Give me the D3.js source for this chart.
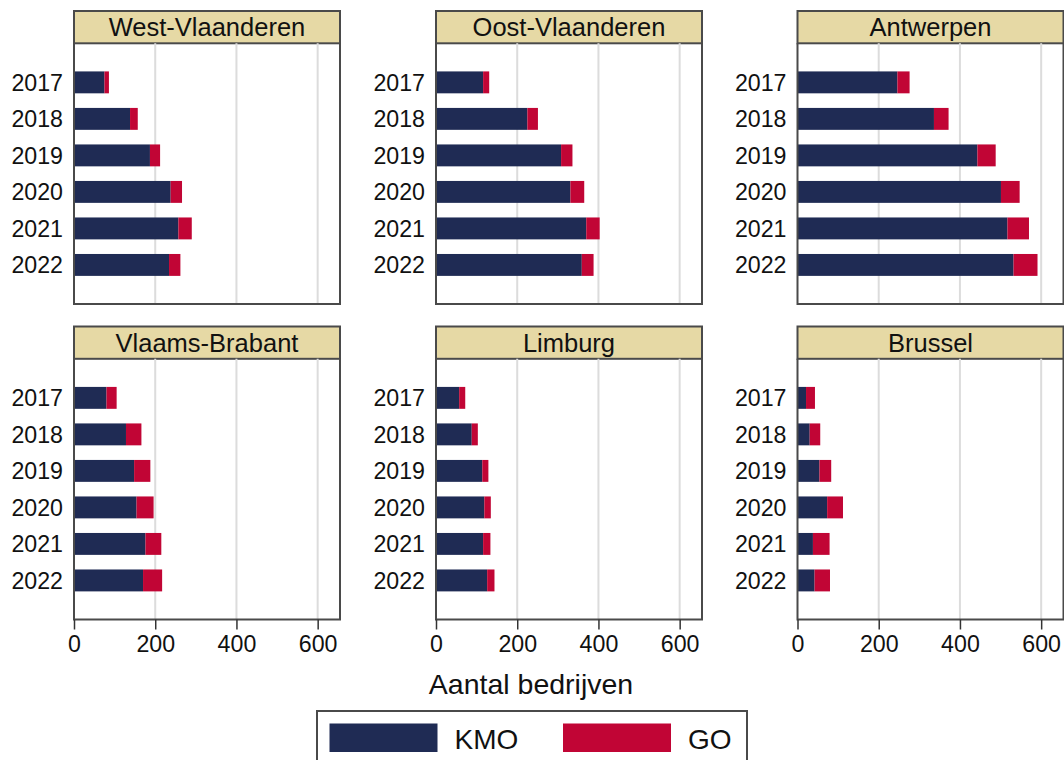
<!DOCTYPE html>
<meta charset="utf-8">
<html>
<head>
<script src="https://cdn.jsdelivr.net/npm/d3@7"></script>
<style>
  body { margin: 0; background: #fff; }
  svg { font-family: "Liberation Sans", Arial, sans-serif; }
</style>
</head>
<body>
<div id="chart"></div>
<script>
  // categories
  const provinces = ["West-Vlaanderen", "Oost-Vlaanderen", "Antwerpen", "Vlaams-Brabant", "Limburg", "Brussel"];
  const years = ["2017", "2018", "2019", "2020", "2021", "2022"];
  const series = ["KMO", "GO"];
  const xTicks = [0, 200, 400, 600];

  // number of firms per year, KMO and GO, per province
  const kmoWestVl  = [75, 138, 187, 238, 257, 234];
  const goWestVl   = [11, 19, 25, 28, 33, 28];
  const kmoOostVl  = [116, 225, 308, 331, 370, 359];
  const goOostVl   = [15, 26, 28, 34, 33, 29];
  const kmoAntw    = [246, 336, 443, 501, 517, 532];
  const goAntw     = [30, 36, 45, 46, 53, 59];
  const kmoVlBr    = [80, 128, 148, 154, 176, 170];
  const goVlBr     = [25, 38, 40, 42, 39, 47];
  const kmoLimb    = [57, 88, 114, 119, 116, 126];
  const goLimb     = [15, 15, 15, 16, 18, 18];
  const kmoBrussel = [21, 30, 54, 73, 38, 42];
  const goBrussel  = [22, 26, 29, 39, 41, 38];

  const kmoByProv = [kmoWestVl, kmoOostVl, kmoAntw, kmoVlBr, kmoLimb, kmoBrussel];
  const goByProv  = [goWestVl, goOostVl, goAntw, goVlBr, goLimb, goBrussel];

  const colors = {KMO: "#1f2b54", GO: "#c10535"};

  const W = 1064, H = 760;
  const colX = [74, 436, 797.5];
  const rowY = [11, 326.5];
  const panelW = 266, headH = 32.3, plotH = 260.7;

  const svg = d3.select("#chart").append("svg")
      .attr("width", W).attr("height", H);

  const x = d3.scaleLinear().domain([0, 655]).range([0, panelW]);
  const y = d3.scaleBand().domain(years).range([0, plotH])
      .paddingInner(0.4).paddingOuter(0.77);

  provinces.forEach((prov, i) => {
    const col = i % 3, row = Math.floor(i / 3);
    const g = svg.append("g")
        .attr("transform", `translate(${colX[col]},${rowY[row]})`);

    // header strip
    g.append("rect")
        .attr("x", 0).attr("y", 0).attr("width", panelW).attr("height", headH)
        .attr("fill", "#e6d9a5").attr("stroke", "#4a4a4a").attr("stroke-width", 2);
    g.append("text")
        .attr("x", panelW / 2).attr("y", headH / 2 + 9)
        .attr("text-anchor", "middle")
        .attr("font-size", 25.5).attr("fill", "#111")
        .text(prov);

    const p = g.append("g").attr("transform", `translate(0,${headH})`);

    // gridlines
    p.selectAll(".grid").data(xTicks.slice(1)).join("line")
        .attr("x1", d => x(d)).attr("x2", d => x(d))
        .attr("y1", 0).attr("y2", plotH)
        .attr("stroke", "#dcdcdc").attr("stroke-width", 2);

    // stacked bars
    const rows = years.map((yr, k) => ({year: yr, KMO: kmoByProv[i][k], GO: goByProv[i][k]}));
    const stacked = d3.stack().keys(series)(rows);
    p.selectAll(".layer").data(stacked).join("g")
        .attr("fill", d => colors[d.key])
      .selectAll("rect").data(d => d).join("rect")
        .attr("x", d => x(d[0]))
        .attr("y", d => y(d.data.year))
        .attr("width", d => x(d[1]) - x(d[0]))
        .attr("height", y.bandwidth());

    // year labels
    p.selectAll(".yl").data(years).join("text")
        .attr("x", -11)
        .attr("y", d => y(d) + y.bandwidth() / 2 + 8.5)
        .attr("text-anchor", "end")
        .attr("font-size", 23.2).attr("fill", "#111")
        .text(d => d);

    // frame
    p.append("path")
        .attr("d", `M0,0V${plotH}H${panelW}V0`)
        .attr("fill", "none").attr("stroke", "#4a4a4a").attr("stroke-width", 2);

    // bottom axis only for the lower row
    if (row === 1) {
      const ax = p.append("g")
          .attr("transform", `translate(0,${plotH})`)
          .call(d3.axisBottom(x).tickValues(xTicks).tickSize(10).tickPadding(6));
      ax.select(".domain").remove();
      ax.selectAll("line").attr("stroke", "#333").attr("stroke-width", 1.5);
      ax.selectAll("text")
          .attr("font-size", 23.2).attr("fill", "#111")
          .attr("font-family", "Liberation Sans, Arial, sans-serif");
    }
  });

  // axis title
  svg.append("text")
      .attr("x", 531).attr("y", 694)
      .attr("text-anchor", "middle")
      .attr("font-size", 28.5).attr("fill", "#111")
      .text("Aantal bedrijven");

  // legend
  const leg = svg.append("g").attr("transform", "translate(317,711)");
  leg.append("rect")
      .attr("x", 0).attr("y", 0).attr("width", 430).attr("height", 60)
      .attr("fill", "#fff").attr("stroke", "#4a4a4a").attr("stroke-width", 2);
  const legX = d3.scaleOrdinal().domain(series).range([12.5, 246]);
  const items = leg.selectAll(".item").data(series).join("g")
      .attr("transform", d => `translate(${legX(d)},12.5)`);
  items.append("rect")
      .attr("width", 108).attr("height", 28.5)
      .attr("fill", d => colors[d]);
  items.append("text")
      .attr("x", 125).attr("y", 25)
      .attr("font-size", 28).attr("fill", "#111")
      .text(d => d);
</script>
</body>
</html>
